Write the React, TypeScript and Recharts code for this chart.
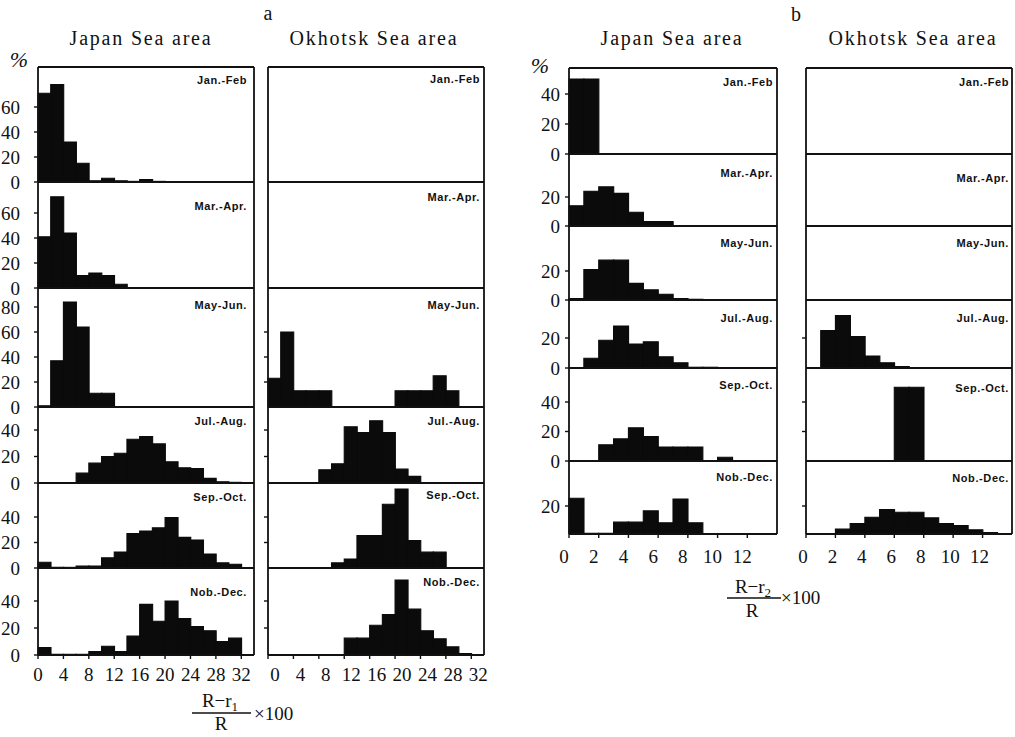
import React from 'react';
import { BarChart, Bar, XAxis, YAxis } from 'recharts';

// ---------- categories ----------
const binsA = [0, 2, 4, 6, 8, 10, 12, 14, 16, 18, 20, 22, 24, 26, 28, 30, 32];
const binsB = [0, 1, 2, 3, 4, 5, 6, 7, 8, 9, 10, 11, 12, 13];
const periods = ['Jan.-Feb', 'Mar.-Apr.', 'May-Jun.', 'Jul.-Aug.', 'Sep.-Oct.', 'Nob.-Dec.'];

// ---------- a : Japan Sea area ((R-r1)/R x100, %) ----------
const aJapanJanFeb = [71, 78, 32, 15, 1, 3, 1, 0.5, 2, 0.5, 0, 0, 0, 0, 0, 0, 0];
const aJapanMarApr = [41, 73, 44, 10, 12, 10, 3, 0, 0, 0, 0, 0, 0, 0, 0, 0, 0];
const aJapanMayJun = [1, 37, 84, 64, 11, 11, 0, 0, 0, 0, 0, 0, 0, 0, 0, 0, 0];
const aJapanJulAug = [0, 0, 0, 7.5, 15, 20, 22.5, 33, 35, 29.5, 16, 11.5, 11, 3.5, 1, 0.5, 0];
const aJapanSepOct = [4.5, 0.5, 0.5, 1.5, 1.5, 8, 12.5, 27, 29, 31.5, 39.5, 24, 22, 11, 4, 3, 0];
const aJapanNovDec = [5.5, 0.5, 0.5, 0.5, 2.5, 6.5, 2.5, 14, 37.5, 25, 40, 27, 21, 18, 10, 12.5, 0];

// ---------- a : Okhotsk Sea area ----------
const aOkhotskJanFeb = [0, 0, 0, 0, 0, 0, 0, 0, 0, 0, 0, 0, 0, 0, 0, 0, 0];
const aOkhotskMarApr = [0, 0, 0, 0, 0, 0, 0, 0, 0, 0, 0, 0, 0, 0, 0, 0, 0];
const aOkhotskMayJun = [23, 60, 13, 13, 13, 0, 0, 0, 0, 0, 13, 13, 13, 25, 13, 0, 0];
const aOkhotskJulAug = [0, 0, 0, 0, 10, 14.5, 42.5, 38, 47, 38, 10.5, 5, 0, 0, 0, 0, 0];
const aOkhotskSepOct = [0, 0, 0, 0, 0, 4, 7, 25.5, 25.5, 50, 62, 21.5, 12.5, 12.5, 0, 0, 0];
const aOkhotskNovDec = [0, 0, 0, 0, 0, 0, 12.5, 12.5, 22, 30, 55.5, 34, 18, 12, 6, 1, 0];

// ---------- b : Japan Sea area ((R-r2)/R x100, %) ----------
const bJapanJanFeb = [50, 50, 0, 0, 0, 0, 0, 0, 0, 0, 0, 0, 0, 0];
const bJapanMarApr = [14, 24, 27, 22.5, 9.5, 3, 3, 0, 0, 0, 0, 0, 0, 0];
const bJapanMayJun = [1, 21, 27.5, 27.5, 11.5, 7, 4, 1, 0.5, 0, 0, 0, 0, 0];
const bJapanJulAug = [0, 6.5, 18.5, 28, 16, 17.5, 7.5, 3.5, 0.5, 0.5, 0, 0, 0, 0];
const bJapanSepOct = [0, 0, 11, 15, 22.5, 16.5, 9.5, 9.5, 9.5, 0, 2.5, 0, 0, 0];
const bJapanNovDec = [25.5, 0.5, 0.5, 8.5, 8.5, 16.5, 8, 25, 8, 0, 0, 0, 0, 0];

// ---------- b : Okhotsk Sea area ----------
const bOkhotskJanFeb = [0, 0, 0, 0, 0, 0, 0, 0, 0, 0, 0, 0, 0, 0];
const bOkhotskMarApr = [0, 0, 0, 0, 0, 0, 0, 0, 0, 0, 0, 0, 0, 0];
const bOkhotskMayJun = [0, 0, 0, 0, 0, 0, 0, 0, 0, 0, 0, 0, 0, 0];
const bOkhotskJulAug = [0, 25, 35, 21, 8, 3.5, 1, 0, 0, 0, 0, 0, 0, 0];
const bOkhotskSepOct = [0, 0, 0, 0, 0, 0, 50, 50, 0, 0, 0, 0, 0, 0];
const bOkhotskNovDec = [0, 0, 3.5, 7.5, 12, 17.5, 15.5, 15.5, 11.5, 7.5, 6, 3, 1, 0];

// ---------- y tick values ----------
const aJapanTicks = [[0, 20, 40, 60], [0, 20, 40, 60], [0, 20, 40, 60, 80], [0, 20, 40], [0, 20, 40], [0, 20, 40]];
const aOkhotskTicks = [[], [], [20, 40, 60], [20, 40], [20, 40], [20, 40]];
const bJapanTicks = [[0, 20, 40], [0, 20], [0, 20], [0, 20], [0, 20, 40], [20]];
const bOkhotskTicks = [[], [], [], [20], [20, 40], [20]];

// ---------- layout (pixels) ----------
const SERIF = "'Liberation Serif', 'DejaVu Serif', serif";
const SANS = "'Liberation Sans', Arial, sans-serif";
const INK = '#111';

const rowsA = [
  { top: 67, base: 182, px20: 25 },
  { top: 182, base: 288, px20: 25 },
  { top: 288, base: 407, px20: 25 },
  { top: 407, base: 483, px20: 26.5 },
  { top: 483, base: 568, px20: 25.5 },
  { top: 568, base: 655, px20: 27 },
];
const rowsB = [
  { top: 68, base: 154, px20: 30 },
  { top: 154, base: 226, px20: 29 },
  { top: 226, base: 300, px20: 29 },
  { top: 300, base: 368, px20: 30 },
  { top: 368, base: 461, px20: 29.5 },
  { top: 461, base: 534, px20: 28 },
];

const columns = [
  {
    key: 'aJ', bins: binsA, left: 38, right: 254, rows: rowsA,
    series: [aJapanJanFeb, aJapanMarApr, aJapanMayJun, aJapanJulAug, aJapanSepOct, aJapanNovDec],
    ticks: aJapanTicks, labelTicks: true, tickMargin: 14, xStep: 4, xdx: 0, xdy: 26,
    nameRight: 247, nameY: [80, 206, 305, 421, 497, 592],
  },
  {
    key: 'aO', bins: binsA, left: 268, right: 484, rows: rowsA,
    series: [aOkhotskJanFeb, aOkhotskMarApr, aOkhotskMayJun, aOkhotskJulAug, aOkhotskSepOct, aOkhotskNovDec],
    ticks: aOkhotskTicks, labelTicks: false, tickMargin: 4, xStep: 4, xdx: 7, xdy: 26,
    nameRight: 480, nameY: [79, 197, 305, 421, 495, 582],
  },
  {
    key: 'bJ', bins: binsB, left: 569, right: 777, rows: rowsB,
    series: [bJapanJanFeb, bJapanMarApr, bJapanMayJun, bJapanJulAug, bJapanSepOct, bJapanNovDec],
    ticks: bJapanTicks, labelTicks: true, tickMargin: 5, xStep: 2, xdx: -5, xdy: 29,
    nameRight: 773, nameY: [82, 173, 243, 318, 385, 477],
  },
  {
    key: 'bO', bins: binsB, left: 806, right: 1012, rows: rowsB,
    series: [bOkhotskJanFeb, bOkhotskMarApr, bOkhotskMayJun, bOkhotskJulAug, bOkhotskSepOct, bOkhotskNovDec],
    ticks: bOkhotskTicks, labelTicks: false, tickMargin: 4, xStep: 2, xdx: -3, xdy: 29,
    nameRight: 1009, nameY: [82, 178, 243, 318, 388, 478],
  },
];

const PADL = 50;
const PADR = 3;
const PADT = 3;
const axisStyle = { stroke: INK, strokeWidth: 1.8 };

function makeXTick(bw: number, step: number, dx: number, dy: number) {
  return (props: any) => {
    const { x, y, payload } = props;
    const val = Number(payload.value);
    if (val % step !== 0) return <g />;
    const ex = x - bw / 2;
    return (
      <g>
        <line x1={ex} y1={y} x2={ex} y2={y + 4} stroke={INK} strokeWidth={1.4} />
        <text x={ex + dx} y={y + dy} textAnchor="middle" fontFamily={SERIF} fontSize={19} fill={INK}>
          {val}
        </text>
      </g>
    );
  };
}

const emptyTick = () => <g />;

function Panel(props: any) {
  const { bins, values, left, right, top, base, px20, yticks, labelTicks, tickMargin, first, last, xStep, xdx, xdy } = props;
  const w = right - left;
  const h = base - top;
  const max = h / (px20 / 20);
  const xh = last ? 40 : 1;
  const topH = first ? 1 : 0;
  const padB = last ? 2 : 14;
  const data = bins.map((b: number, i: number) => ({ bin: String(b), v: values[i] }));
  const bw = w / bins.length;
  const hasTicks = yticks.length > 0;
  return (
    <div style={{ position: 'absolute', left: left - PADL, top: top - PADT - topH }}>
      <BarChart
        width={PADL + w + PADR + 1}
        height={PADT + topH + h + xh + padB}
        data={data}
        margin={{ top: PADT, right: PADR, bottom: padB, left: 0 }}
        barCategoryGap={0}
        barGap={0}
      >
        {first && (
          <XAxis xAxisId="top" orientation="top" dataKey="bin" height={1} axisLine={axisStyle} tick={false} tickLine={false} />
        )}
        <XAxis
          dataKey="bin"
          height={xh}
          axisLine={axisStyle}
          tickLine={false}
          tickSize={0}
          tickMargin={0}
          interval={0}
          tick={last ? makeXTick(bw, xStep, xdx, xdy) : false}
        />
        <YAxis
          width={PADL}
          type="number"
          domain={[0, max]}
          allowDataOverflow
          ticks={hasTicks ? yticks : undefined}
          interval={0}
          axisLine={axisStyle}
          tickLine={hasTicks ? { stroke: INK, strokeWidth: 1.4 } : false}
          tickSize={4}
          tickMargin={tickMargin}
          tick={hasTicks ? (labelTicks ? { fontFamily: SERIF, fontSize: 19, fill: INK } : emptyTick) : false}
        />
        <YAxis
          yAxisId="r"
          orientation="right"
          width={1}
          type="number"
          domain={[0, max]}
          allowDataOverflow
          axisLine={axisStyle}
          tick={false}
          tickLine={false}
        />
        <Bar dataKey="v" fill="#0b0b0b" stroke="#0b0b0b" strokeWidth={1.1} isAnimationActive={false} />
      </BarChart>
    </div>
  );
}

export default function App() {
  return (
    <div style={{ position: 'absolute', left: 0, top: 0, width: 1015, height: 737, background: '#fff', overflow: 'hidden' }}>
      {columns.map((c) =>
        c.rows.map((r, i) => (
          <Panel
            key={c.key + i}
            bins={c.bins}
            values={c.series[i]}
            left={c.left}
            right={c.right}
            top={r.top}
            base={r.base}
            px20={r.px20}
            yticks={c.ticks[i]}
            labelTicks={c.labelTicks}
            tickMargin={c.tickMargin}
            first={i === 0}
            last={i === c.rows.length - 1}
            xStep={c.xStep}
            xdx={c.xdx}
            xdy={c.xdy}
          />
        ))
      )}
      <svg width={1015} height={737} style={{ position: 'absolute', left: 0, top: 0, pointerEvents: 'none' }}>
        {columns.map((c) =>
          c.nameY.map((y, i) => (
            <text key={c.key + 'n' + i} x={c.nameRight} y={y + 4} textAnchor="end" fontFamily={SANS} fontWeight="bold" fontSize={11} letterSpacing={0.6} fill={INK}>
              {periods[i]}
            </text>
          ))
        )}
        <text x={268} y={20} textAnchor="middle" fontFamily={SERIF} fontSize={20} fill={INK}>a</text>
        <text x={141} y={45} textAnchor="middle" fontFamily={SERIF} fontSize={20} letterSpacing={1.8} fill={INK}>Japan Sea area</text>
        <text x={374} y={45} textAnchor="middle" fontFamily={SERIF} fontSize={20} letterSpacing={1.8} fill={INK}>Okhotsk Sea area</text>
        <text x={796} y={21} textAnchor="middle" fontFamily={SERIF} fontSize={20} fill={INK}>b</text>
        <text x={672} y={45} textAnchor="middle" fontFamily={SERIF} fontSize={20} letterSpacing={1.8} fill={INK}>Japan Sea area</text>
        <text x={913} y={45} textAnchor="middle" fontFamily={SERIF} fontSize={20} letterSpacing={1.8} fill={INK}>Okhotsk Sea area</text>
        <text x={19} y={67} textAnchor="middle" fontFamily={SERIF} fontStyle="italic" fontSize={22} fill={INK}>%</text>
        <text x={540} y={73} textAnchor="middle" fontFamily={SERIF} fontStyle="italic" fontSize={22} fill={INK}>%</text>
        <text x={220} y={707} textAnchor="middle" fontFamily={SERIF} fontSize={19} fill={INK}>
          R−r<tspan fontSize={13} dy={4}>1</tspan>
        </text>
        <line x1={192} y1={713} x2={251} y2={713} stroke={INK} strokeWidth={1.3} />
        <text x={221} y={730} textAnchor="middle" fontFamily={SERIF} fontSize={19} fill={INK}>R</text>
        <text x={254} y={720} textAnchor="start" fontFamily={SERIF} fontSize={19} fill={INK}>×100</text>
        <text x={753} y={593} textAnchor="middle" fontFamily={SERIF} fontSize={19} fill={INK}>
          R−r<tspan fontSize={13} dy={4}>2</tspan>
        </text>
        <line x1={727} y1={598} x2={781} y2={598} stroke={INK} strokeWidth={1.3} />
        <text x={752} y={617} textAnchor="middle" fontFamily={SERIF} fontSize={19} fill={INK}>R</text>
        <text x={781} y={604} textAnchor="start" fontFamily={SERIF} fontSize={19} fill={INK}>×100</text>
      </svg>
    </div>
  );
}
